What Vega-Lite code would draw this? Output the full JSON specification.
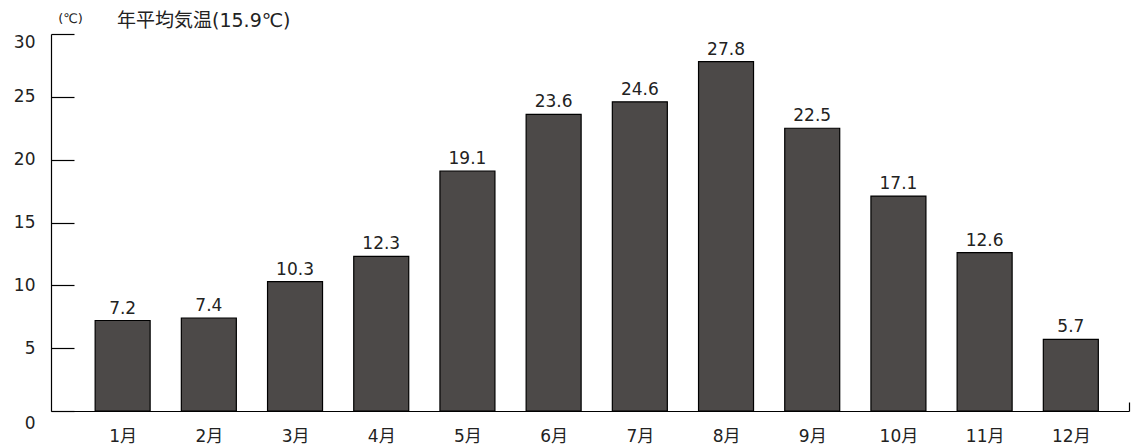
{
  "$schema": "https://vega.github.io/schema/vega-lite/v6.json",
  "width": 1078,
  "height": 377,
  "autosize": {"type": "none"},
  "padding": {"left": 51, "top": 34, "right": 4, "bottom": 35},
  "background": "white",
  "config": {
    "view": {"stroke": null},
    "font": "DejaVu Sans, Noto Sans CJK JP",
    "axis": {"grid": false, "domainColor": "black", "domainWidth": 1.2, "tickColor": "black", "tickWidth": 1.2, "labelFont": "DejaVu Sans, Noto Sans CJK JP", "labelColor": "#222", "labelFontSize": 17, "labelFontWeight": "normal"}
  },
  "title": {
    "text": "年平均気温(15.9℃)",
    "anchor": "start",
    "frame": "group",
    "dx": 66,
    "offset": -34,
    "baseline": "alphabetic",
    "font": "DejaVu Sans, Noto Sans CJK JP",
    "fontSize": 19,
    "fontWeight": "normal",
    "color": "#222"
  },
  "data": {
    "values": [
      {"month": "1月", "temp": 7.2},
      {"month": "2月", "temp": 7.4},
      {"month": "3月", "temp": 10.3},
      {"month": "4月", "temp": 12.3},
      {"month": "5月", "temp": 19.1},
      {"month": "6月", "temp": 23.6},
      {"month": "7月", "temp": 24.6},
      {"month": "8月", "temp": 27.8},
      {"month": "9月", "temp": 22.5},
      {"month": "10月", "temp": 17.1},
      {"month": "11月", "temp": 12.6},
      {"month": "12月", "temp": 5.7}
    ]
  },
  "encoding": {
    "x": {
      "field": "month",
      "type": "nominal",
      "sort": null,
      "scale": {"paddingInner": 0.362, "paddingOuter": 0.434, "align": 0.59},
      "axis": {
        "title": null,
        "labelAngle": 0,
        "tickSize": -9,
        "tickOffset": 58,
        "labelOffset": -58,
        "tickOpacity": {"condition": {"test": "datum.value === '12月'", "value": 1}, "value": 0},
        "labelPadding": 26,
        "labelFontSize": 17
      }
    },
    "y": {
      "field": "temp",
      "type": "quantitative",
      "scale": {"domain": [0, 30], "nice": false, "zero": true},
      "axis": {
        "values": [0, 5, 10, 15, 20, 25, 30],
        "title": "(℃)",
        "titleAngle": 0,
        "titleX": 19,
        "titleY": -16,
        "titleAlign": "center",
        "titleBaseline": "middle",
        "titleFont": "DejaVu Sans, Noto Sans CJK JP",
        "titleFontSize": 13,
        "titleFontWeight": "normal",
        "titleColor": "#222",
        "tickSize": -23,
        "labelPadding": 39,
        "labelBaseline": "middle",
        "labelOffset": {"condition": [{"test": "datum.value === 0", "value": 12}, {"test": "datum.value === 30", "value": 8}], "value": 0}
      }
    }
  },
  "layer": [
    {
      "mark": {"type": "bar", "fill": "#4c4948", "stroke": "black", "strokeWidth": 1.2}
    },
    {
      "mark": {"type": "text", "baseline": "alphabetic", "dy": -7, "fontSize": 17, "fontWeight": "normal", "color": "#222", "font": "DejaVu Sans, Noto Sans CJK JP"},
      "encoding": {"text": {"field": "temp", "type": "quantitative", "format": ".1f"}}
    }
  ]
}
